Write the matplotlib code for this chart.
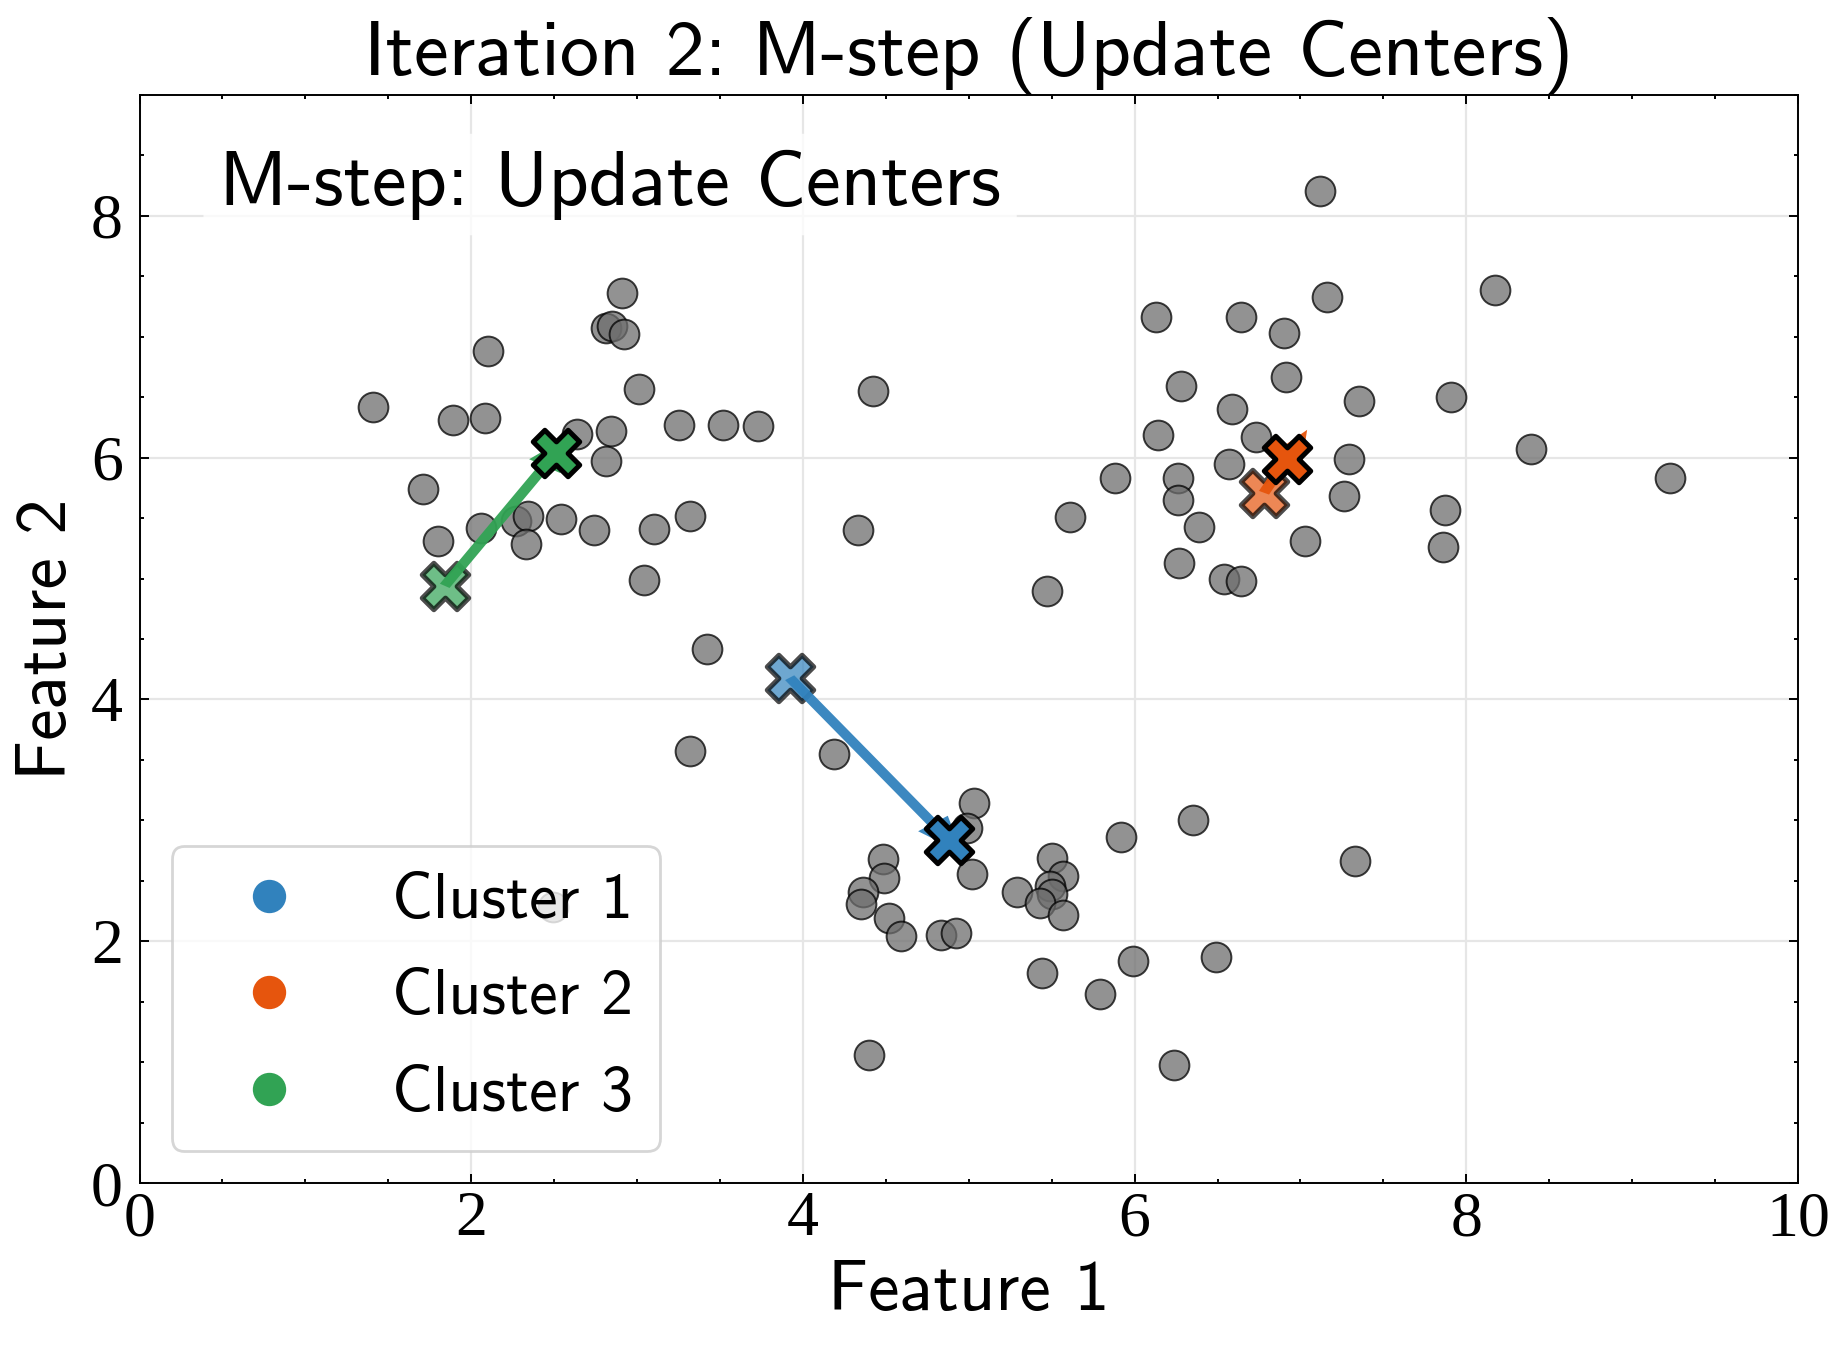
import matplotlib
matplotlib.use('Agg')
import matplotlib.pyplot as plt
from matplotlib.ticker import MultipleLocator
from matplotlib.lines import Line2D

# data points (Feature 1, Feature 2)
pts_x = [1.41, 2.10, 1.89, 2.08, 1.71, 1.80, 2.06, 2.27, 2.34, 2.33, 2.54, 2.74,
         2.91, 2.81, 2.85, 2.92, 3.01, 2.64, 2.84, 2.81, 3.25, 3.52, 3.73, 3.32,
         3.10, 3.04, 3.42, 4.42, 4.33, 3.32, 2.49,
         7.12, 8.17, 7.16, 6.13, 6.64, 6.90, 6.91, 6.28, 6.59, 7.35, 7.91, 6.14,
         6.73, 6.57, 7.29, 8.39, 9.23, 5.88, 6.26, 6.26, 7.26, 5.61, 6.39, 7.87,
         7.03, 7.86, 6.27, 6.54, 6.64, 5.47,
         4.19, 4.48, 4.49, 4.36, 4.35, 4.52, 4.59, 4.40, 5.03, 4.99, 5.02, 4.83,
         4.92, 5.50, 5.57, 5.29, 5.49, 5.50, 5.43, 5.57, 5.92, 6.35, 7.33, 5.44,
         5.99, 6.49, 5.79, 6.24]
pts_y = [6.42, 6.88, 6.31, 6.33, 5.74, 5.31, 5.42, 5.48, 5.52, 5.29, 5.49, 5.40,
         7.36, 7.07, 7.09, 7.02, 6.57, 6.20, 6.22, 5.97, 6.27, 6.27, 6.26, 5.52,
         5.41, 4.99, 4.42, 6.55, 5.40, 3.57, 2.28,
         8.21, 7.39, 7.33, 7.16, 7.16, 7.03, 6.67, 6.59, 6.40, 6.47, 6.50, 6.19,
         6.17, 5.95, 5.99, 6.07, 5.83, 5.83, 5.83, 5.65, 5.68, 5.51, 5.43, 5.57,
         5.31, 5.26, 5.13, 5.00, 4.98, 4.90,
         3.55, 2.68, 2.52, 2.41, 2.31, 2.19, 2.04, 1.06, 3.14, 2.94, 2.56, 2.05,
         2.07, 2.69, 2.54, 2.41, 2.46, 2.39, 2.32, 2.22, 2.86, 3.00, 2.66, 1.74,
         1.84, 1.87, 1.56, 0.98]

cluster_names = ['Cluster 1', 'Cluster 2', 'Cluster 3']
cluster_colors = ['#3182bd', '#e6550d', '#31a354']
old_cx = [3.92, 6.78, 1.84]
old_cy = [4.18, 5.71, 4.94]
new_cx = [4.88, 6.92, 2.51]
new_cy = [2.84, 5.99, 6.04]

plt.rcParams['font.family'] = ['cmss10', 'DejaVu Sans']
plt.rcParams['axes.formatter.use_mathtext'] = False

fig = plt.figure(figsize=(9.23, 6.75), dpi=200)
ax = fig.add_axes([0.0756, 0.1237, 0.974 - 0.0756, 0.9296 - 0.1237])

ax.scatter(pts_x, pts_y, s=115, c='#6e6e6e', alpha=0.75, edgecolors='black',
           linewidths=0.7, zorder=2)
for i in range(3):
    ax.scatter(old_cx[i], old_cy[i], marker='X', s=280, c=cluster_colors[i],
               alpha=0.7, edgecolors='black', linewidths=1.8, zorder=3)
    ax.arrow(old_cx[i], old_cy[i], 0.9 * (new_cx[i] - old_cx[i]),
             0.9 * (new_cy[i] - old_cy[i]), width=0.068, head_width=0.22,
             head_length=0.3, fc=cluster_colors[i], ec='none', lw=0,
             alpha=0.95, zorder=4, length_includes_head=False)
    ax.scatter(new_cx[i], new_cy[i], marker='X', s=280, c=cluster_colors[i],
               edgecolors='black', linewidths=1.8, zorder=5)

ax.set_xlim(0, 10)
ax.set_ylim(0, 9)
ax.xaxis.set_major_locator(MultipleLocator(2))
ax.yaxis.set_major_locator(MultipleLocator(2))
ax.xaxis.set_minor_locator(MultipleLocator(0.5))
ax.yaxis.set_minor_locator(MultipleLocator(0.5))
ax.tick_params(which='both', direction='in', top=True, right=True, width=0.7)
ax.tick_params(which='major', length=3.1)
ax.tick_params(which='minor', length=1.5)
ax.tick_params(axis='x', pad=3)
ax.tick_params(axis='y', pad=6)
for lab in ax.get_xticklabels() + ax.get_yticklabels():
    lab.set_fontfamily('Liberation Serif')
    lab.set_fontsize(23)
for sp in ax.spines.values():
    sp.set_linewidth(0.7)

ax.grid(True, which='major', color='#e6e6e6', lw=0.8)
ax.set_axisbelow(True)

ax.set_title('Iteration 2: M-step (Update Centers)', fontsize=28.2, pad=6)
ax.set_xlabel('Feature 1', fontsize=25.4, labelpad=4)
ax.set_ylabel('Feature 2', fontsize=25.4, labelpad=4)

ax.text(0.048, 0.95, 'M-step: Update Centers', transform=ax.transAxes,
        fontsize=28.2, va='top', ha='left', zorder=6,
        bbox=dict(boxstyle='round,pad=0.2', facecolor='white',
                  edgecolor='none', alpha=0.8))

handles = [Line2D([], [], marker='o', ls='', color=c, markersize=11)
           for c in cluster_colors]
ax.legend(handles, cluster_names, loc='lower left', fontsize=23.1,
          labelspacing=0.60, handlelength=2.21, borderpad=0.42,
          framealpha=0.8, edgecolor='0.8', fancybox=True)

fig.savefig('out.png', dpi=200)
